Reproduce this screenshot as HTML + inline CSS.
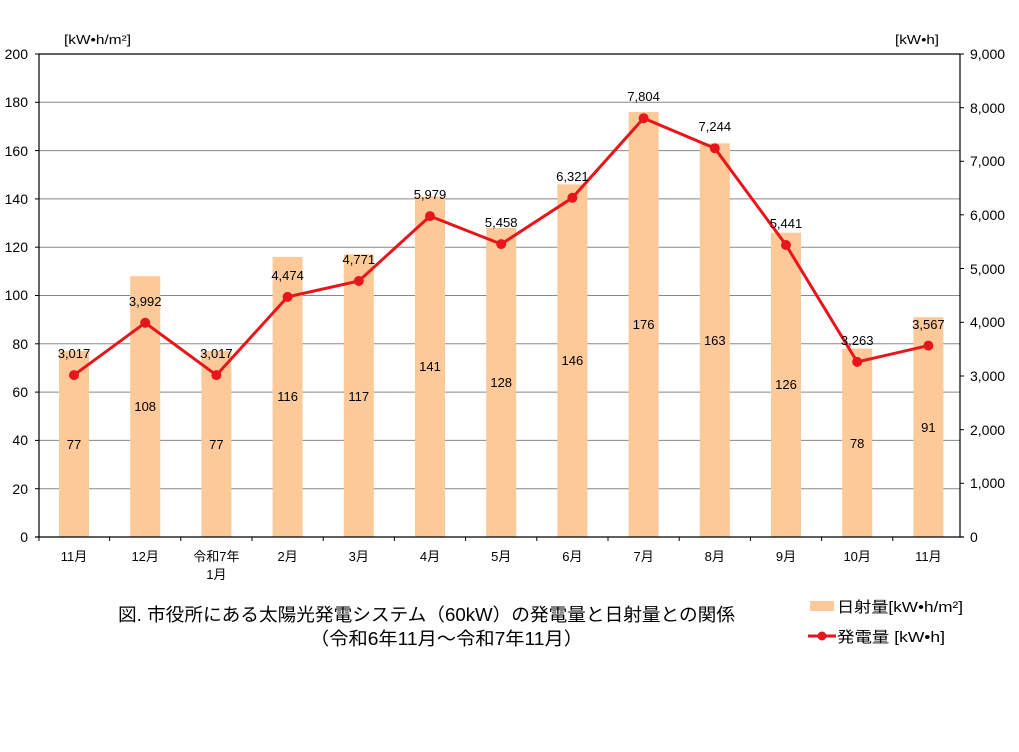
<!DOCTYPE html>
<html><head><meta charset="utf-8"><style>
html,body{margin:0;padding:0;background:#fff;}
svg{display:block;font-family:"Liberation Sans","Noto Sans CJK JP",sans-serif;}
</style></head><body>
<svg width="1019" height="752" viewBox="0 0 1019 752" xmlns="http://www.w3.org/2000/svg">
<g stroke="#888" stroke-width="1">
<line x1="39" y1="488.7" x2="960" y2="488.7"/><line x1="39" y1="440.4" x2="960" y2="440.4"/>
<line x1="39" y1="392.1" x2="960" y2="392.1"/><line x1="39" y1="343.8" x2="960" y2="343.8"/>
<line x1="39" y1="295.5" x2="960" y2="295.5"/><line x1="39" y1="247.2" x2="960" y2="247.2"/>
<line x1="39" y1="198.9" x2="960" y2="198.9"/><line x1="39" y1="150.6" x2="960" y2="150.6"/>
<line x1="39" y1="102.3" x2="960" y2="102.3"/>
</g>
<g fill="#fdc998">
<rect x="59" y="351" width="30" height="186"/>
<rect x="130.2" y="276.2" width="30" height="260.8"/>
<rect x="201.4" y="351" width="30" height="186"/>
<rect x="272.6" y="256.9" width="30" height="280.1"/>
<rect x="343.8" y="254.4" width="30" height="282.6"/>
<rect x="415" y="196.5" width="30" height="340.5"/>
<rect x="486.2" y="227.9" width="30" height="309.1"/>
<rect x="557.4" y="184.4" width="30" height="352.6"/>
<rect x="628.6" y="112" width="30" height="425"/>
<rect x="699.8" y="143.4" width="30" height="393.6"/>
<rect x="771" y="232.7" width="30" height="304.3"/>
<rect x="842.2" y="348.6" width="30" height="188.4"/>
<rect x="913.4" y="317.2" width="30" height="219.8"/>
</g>
<g stroke="#000" stroke-width="1.2" fill="none">
<line x1="39" y1="54" x2="960" y2="54"/>
<line x1="39" y1="54" x2="39" y2="537"/>
<line x1="960" y1="54" x2="960" y2="537"/>
<line x1="35" y1="537" x2="964" y2="537"/>
</g>
<g stroke="#000" stroke-width="1">
<line x1="35" y1="488.7" x2="39" y2="488.7"/><line x1="35" y1="440.4" x2="39" y2="440.4"/><line x1="35" y1="392.1" x2="39" y2="392.1"/><line x1="35" y1="343.8" x2="39" y2="343.8"/><line x1="35" y1="295.5" x2="39" y2="295.5"/><line x1="35" y1="247.2" x2="39" y2="247.2"/><line x1="35" y1="198.9" x2="39" y2="198.9"/><line x1="35" y1="150.6" x2="39" y2="150.6"/><line x1="35" y1="102.3" x2="39" y2="102.3"/><line x1="35" y1="54" x2="39" y2="54"/>
<line x1="960" y1="483.3" x2="964" y2="483.3"/><line x1="960" y1="429.7" x2="964" y2="429.7"/><line x1="960" y1="376" x2="964" y2="376"/><line x1="960" y1="322.3" x2="964" y2="322.3"/><line x1="960" y1="268.5" x2="964" y2="268.5"/><line x1="960" y1="214.8" x2="964" y2="214.8"/><line x1="960" y1="161.3" x2="964" y2="161.3"/><line x1="960" y1="107.7" x2="964" y2="107.7"/><line x1="960" y1="54" x2="964" y2="54"/>
<line x1="39" y1="537" x2="39" y2="541"/><line x1="109.6" y1="537" x2="109.6" y2="541"/><line x1="180.8" y1="537" x2="180.8" y2="541"/><line x1="252" y1="537" x2="252" y2="541"/><line x1="323.2" y1="537" x2="323.2" y2="541"/><line x1="394.4" y1="537" x2="394.4" y2="541"/><line x1="465.6" y1="537" x2="465.6" y2="541"/><line x1="536.8" y1="537" x2="536.8" y2="541"/><line x1="608" y1="537" x2="608" y2="541"/><line x1="679.2" y1="537" x2="679.2" y2="541"/><line x1="750.4" y1="537" x2="750.4" y2="541"/><line x1="821.6" y1="537" x2="821.6" y2="541"/><line x1="892.8" y1="537" x2="892.8" y2="541"/>
</g>
<g font-size="14" fill="#000" text-anchor="end">
<text x="28" y="542">0</text><text x="28" y="494">20</text><text x="28" y="445">40</text><text x="28" y="397">60</text><text x="28" y="349">80</text><text x="28" y="300">100</text><text x="28" y="252">120</text><text x="28" y="204">140</text><text x="28" y="156">160</text><text x="28" y="107">180</text><text x="28" y="59">200</text>
</g>
<g font-size="14" fill="#000" text-anchor="start">
<text x="970" y="542">0</text><text x="970" y="488">1,000</text><text x="970" y="435">2,000</text><text x="970" y="381">3,000</text><text x="970" y="327">4,000</text><text x="970" y="274">5,000</text><text x="970" y="220">6,000</text><text x="970" y="166">7,000</text><text x="970" y="113">8,000</text><text x="970" y="59">9,000</text>
</g>
<text x="64" y="44" font-size="13" textLength="67" lengthAdjust="spacingAndGlyphs">[kW•h/m²]</text>
<text x="895" y="44" font-size="13" textLength="44" lengthAdjust="spacingAndGlyphs">[kW•h]</text>
<g font-size="13" text-anchor="middle">
<text x="74" y="561">11月</text><text x="145.2" y="561">12月</text><text x="216.4" y="561">令和7年</text><text x="216.4" y="579">1月</text><text x="287.6" y="561">2月</text><text x="358.8" y="561">3月</text><text x="430" y="561">4月</text><text x="501.2" y="561">5月</text><text x="572.4" y="561">6月</text><text x="643.6" y="561">7月</text><text x="714.8" y="561">8月</text><text x="786" y="561">9月</text><text x="857.2" y="561">10月</text><text x="928.4" y="561">11月</text>
</g>
<g font-size="13" text-anchor="middle">
<text x="74" y="449">77</text><text x="145.2" y="411">108</text><text x="216.4" y="449">77</text><text x="287.6" y="401">116</text><text x="358.8" y="401">117</text><text x="430" y="371">141</text><text x="501.2" y="387">128</text><text x="572.4" y="365">146</text><text x="643.6" y="329">176</text><text x="714.8" y="345">163</text><text x="786" y="389">126</text><text x="857.2" y="448">78</text><text x="928.4" y="432">91</text>
</g>
<polyline fill="none" stroke="#e8161b" stroke-width="3" points="74,375.1 145.2,322.8 216.4,375.1 287.6,296.9 358.8,281 430,216.1 501.2,244.1 572.4,197.8 643.6,118.2 714.8,148.2 786,245 857.2,361.9 928.4,345.6"/>
<g fill="#e8161b">
<circle cx="74" cy="375.1" r="5"/><circle cx="145.2" cy="322.8" r="5"/><circle cx="216.4" cy="375.1" r="5"/><circle cx="287.6" cy="296.9" r="5"/><circle cx="358.8" cy="281" r="5"/><circle cx="430" cy="216.1" r="5"/><circle cx="501.2" cy="244.1" r="5"/><circle cx="572.4" cy="197.8" r="5"/><circle cx="643.6" cy="118.2" r="5"/><circle cx="714.8" cy="148.2" r="5"/><circle cx="786" cy="245" r="5"/><circle cx="857.2" cy="361.9" r="5"/><circle cx="928.4" cy="345.6" r="5"/>
</g>
<g font-size="13" text-anchor="middle">
<text x="74" y="358">3,017</text><text x="145.2" y="306">3,992</text><text x="216.4" y="358">3,017</text><text x="287.6" y="280">4,474</text><text x="358.8" y="264">4,771</text><text x="430" y="199">5,979</text><text x="501.2" y="227">5,458</text><text x="572.4" y="181">6,321</text><text x="643.6" y="101">7,804</text><text x="714.8" y="131">7,244</text><text x="786" y="228">5,441</text><text x="857.2" y="345">3,263</text><text x="928.4" y="329">3,567</text>
</g>
<text x="118" y="621" font-size="18" textLength="617" lengthAdjust="spacingAndGlyphs">図. 市役所にある太陽光発電システム（60kW）の発電量と日射量との関係</text>
<text x="310" y="645" font-size="18" textLength="273" lengthAdjust="spacingAndGlyphs">（令和6年11月～令和7年11月）</text>
<rect x="810" y="601" width="24" height="10" fill="#fdc998"/>
<text x="837" y="612" font-size="15" textLength="126" lengthAdjust="spacingAndGlyphs">日射量[kW•h/m²]</text>
<line x1="808" y1="636" x2="836" y2="636" stroke="#e8161b" stroke-width="3"/>
<circle cx="822" cy="636" r="4.5" fill="#e8161b"/>
<text x="837" y="642" font-size="15" textLength="108" lengthAdjust="spacingAndGlyphs">発電量 [kW•h]</text>
</svg>
</body></html>
